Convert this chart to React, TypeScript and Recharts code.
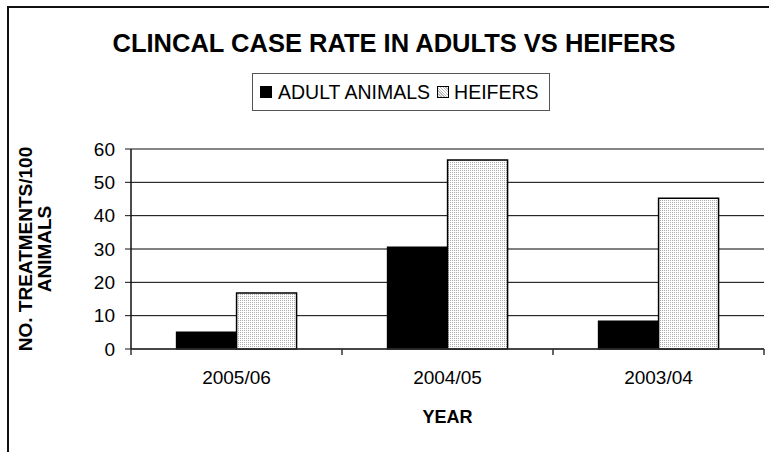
import { BarChart, Bar, XAxis, YAxis, CartesianGrid, ReferenceLine, Legend, Label } from 'recharts';

const categories = ['2005/06', '2004/05', '2003/04'];
const adultAnimals = [5, 30.5, 8.3];
const heiferValues = [16.8, 56.7, 45.2];
const yTicks = [0, 10, 20, 30, 40, 50, 60];

const data = categories.map((year, i) => ({ year, adult: adultAnimals[i], heifers: heiferValues[i] }));

const FONT = '"Liberation Sans", Arial, sans-serif';

// tick label at the centre, tick marks on the category boundaries (excel style)
const YearTick = (props: any) => {
  const { x, y, payload, index, visibleTicksCount } = props;
  const half = payload?.offset ?? 105.5;
  const last = index === visibleTicksCount - 1;
  return (
    <g>
      <line x1={x - half} x2={x - half} y1={y} y2={y + 6} stroke="#333" strokeWidth={1.5} />
      {last && <line x1={x + half} x2={x + half} y1={y} y2={y + 6} stroke="#333" strokeWidth={1.5} />}
      <text x={x} y={y + 35} textAnchor="middle" fontSize={19} fontFamily={FONT} fill="#000">
        {payload.value}
      </text>
    </g>
  );
};

const YTitle = (props: any) => {
  const cy = props.viewBox.y + props.viewBox.height / 2;
  return (
    <g fontFamily={FONT} fontWeight="bold" fontSize={19} fill="#000">
      <text x={25} y={cy} transform={`rotate(-90 25 ${cy})`} textAnchor="middle" dominantBaseline="central">
        NO. TREATMENTS/100
      </text>
      <text x={44} y={cy} transform={`rotate(-90 44 ${cy})`} textAnchor="middle" dominantBaseline="central">
        ANIMALS
      </text>
    </g>
  );
};

const XTitle = (props: any) => {
  const { x, y, width } = props.viewBox;
  return (
    <text x={x + width / 2} y={y + 74} textAnchor="middle" fontFamily={FONT} fontWeight="bold" fontSize={18} fill="#000">
      YEAR
    </text>
  );
};

const LegendBox = () => (
  <div
    style={{
      display: 'flex',
      alignItems: 'center',
      height: 36,
      border: '1px solid #555',
      padding: '0 10px 0 7px',
      fontFamily: FONT,
      fontSize: 19.5,
      lineHeight: '19px',
      color: '#000',
      background: '#fff',
      whiteSpace: 'nowrap',
    }}
  >
    <span style={{ width: 12, height: 12, background: '#000', display: 'inline-block', marginRight: 6 }} />
    <span>ADULT ANIMALS</span>
    <span
      style={{
        width: 10,
        height: 10,
        border: '1px solid #000',
        display: 'inline-block',
        margin: '0 5px 0 7px',
        background: 'repeating-linear-gradient(45deg, #bbb 0 1px, #fff 1px 2px)',
      }}
    />
    <span>HEIFERS</span>
  </div>
);

export default function App() {
  return (
    <div style={{ position: 'fixed', left: 0, top: 0, width: 769, height: 452, background: '#fff', overflow: 'hidden' }}>
      <div style={{ position: 'absolute', left: 7, top: 6, width: 800, height: 500, borderLeft: '2px solid #111', borderTop: '2px solid #111' }} />
      <div
        style={{
          position: 'absolute',
          left: 0,
          width: 788,
          top: 31,
          textAlign: 'center',
          fontFamily: FONT,
          fontWeight: 'bold',
          fontSize: 25.5,
          lineHeight: '25px',
          color: '#000',
        }}
      >
        CLINCAL CASE RATE IN ADULTS VS HEIFERS
      </div>
      <BarChart
        width={769}
        height={452}
        data={data}
        margin={{ top: 149, right: 5, bottom: 63, left: 71 }}
        barCategoryGap="21.6%"
        barGap={0}
        style={{ position: 'absolute', left: 0, top: 0 }}
      >
        <defs>
          <pattern id="heiferDots" width={2} height={2} patternUnits="userSpaceOnUse">
            <rect width={2} height={2} fill="#fff" />
            <rect width={1} height={1} fill="#aaa" />
          </pattern>
        </defs>
        <CartesianGrid vertical={false} stroke="#000" strokeWidth={1} />
        <XAxis
          dataKey="year"
          tick={<YearTick />}
          tickLine={false}
          tickSize={0}
          tickMargin={0}
          axisLine={{ stroke: '#333', strokeWidth: 1.5 }}
          height={40}
          interval={0}
        >
          <Label content={<XTitle />} />
        </XAxis>
        <YAxis
          domain={[0, 60]}
          ticks={yTicks}
          width={60}
          tickSize={6}
          tickMargin={10}
          axisLine={{ stroke: '#111', strokeWidth: 1.5 }}
          tickLine={{ stroke: '#111' }}
          tick={{ fontSize: 19, fontFamily: FONT, fill: '#000' }}
        >
          <Label content={<YTitle />} />
        </YAxis>
        <YAxis
          yAxisId="frame"
          orientation="right"
          domain={[0, 60]}
          width={0}
          tick={false}
          tickLine={false}
          axisLine={{ stroke: '#888', strokeWidth: 1.5 }}
        />
        <ReferenceLine y={60} stroke="#888" strokeWidth={1.5} />
        <Legend
          content={<LegendBox />}
          layout="horizontal"
          verticalAlign="middle"
          wrapperStyle={{ position: 'absolute', left: 252, top: 73, width: 'auto' }}
        />
        <Bar dataKey="adult" name="ADULT ANIMALS" fill="#000" stroke="#000" strokeWidth={1.5} isAnimationActive={false} />
        <Bar dataKey="heifers" name="HEIFERS" fill="url(#heiferDots)" stroke="#000" strokeWidth={1.5} isAnimationActive={false} />
      </BarChart>
    </div>
  );
}
